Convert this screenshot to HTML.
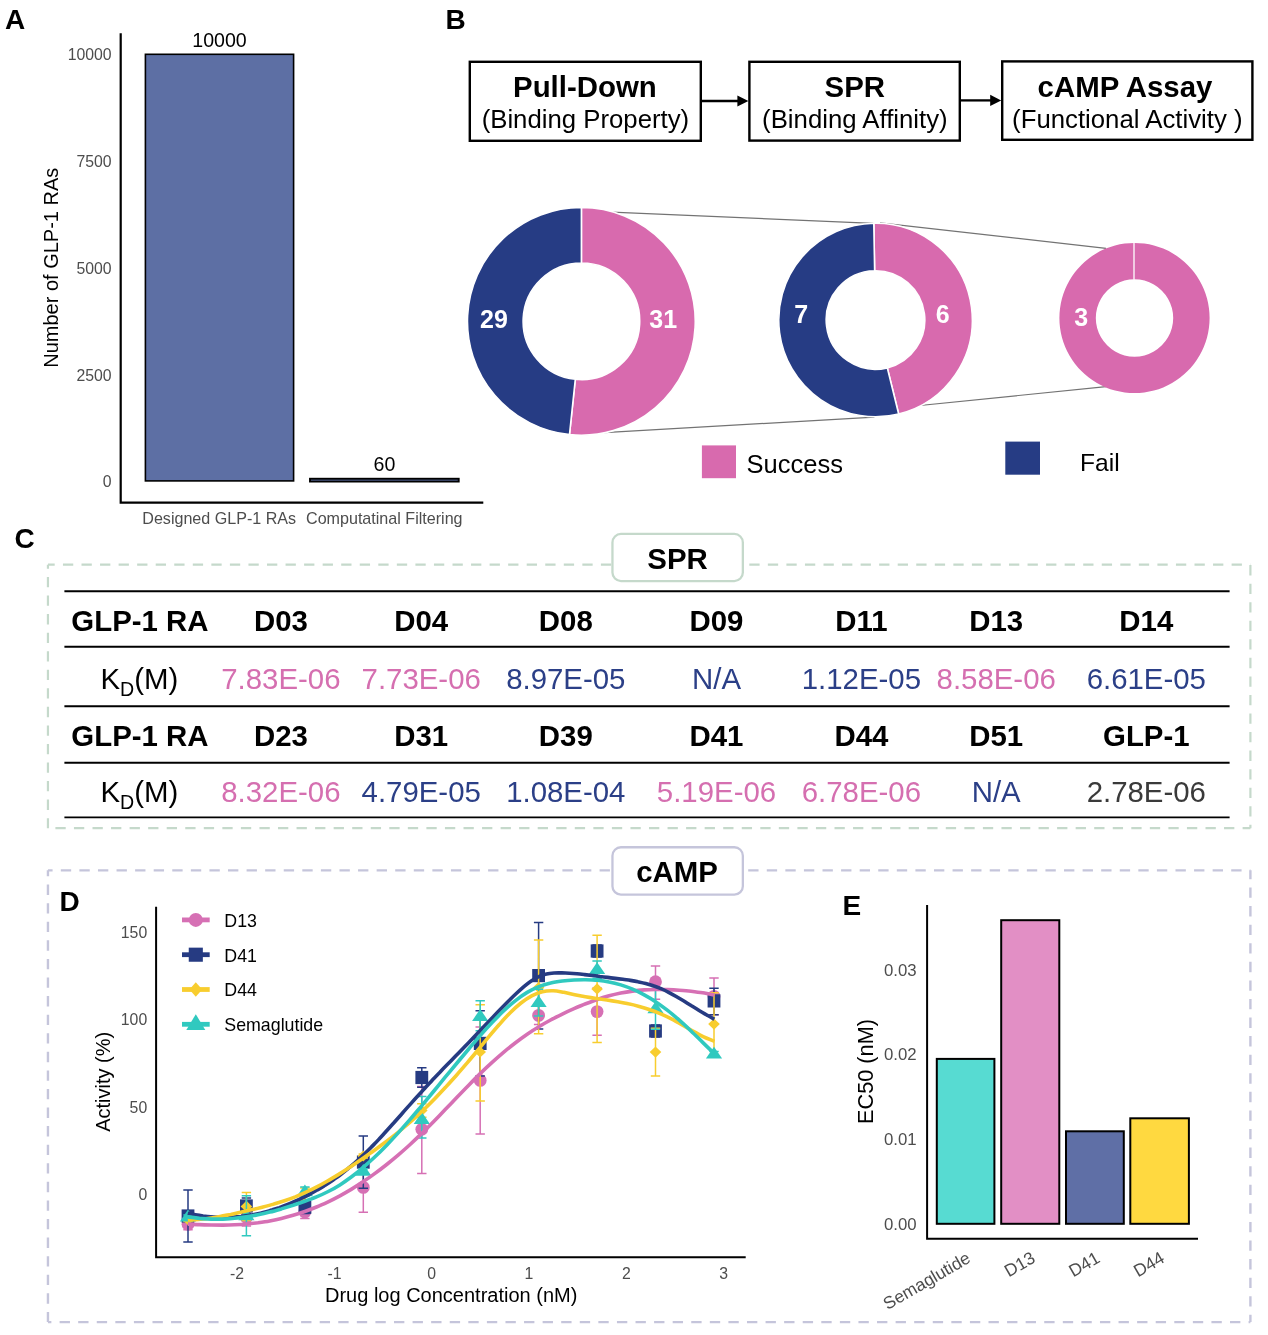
<!DOCTYPE html>
<html lang="en">
<head>
<meta charset="utf-8">
<title>GLP-1 RA design figure</title>
<style>
html,body{margin:0;padding:0;background:#fff;}
body{width:1268px;height:1335px;overflow:hidden;}
svg{display:block;}
text{font-family:"Liberation Sans", Arial, Helvetica, sans-serif;}
.b{font-weight:700;}
.tick{fill:#4d4d4d;}
</style>
</head>
<body>
<svg width="1268" height="1335" viewBox="0 0 1268 1335">
<rect x="0" y="0" width="1268" height="1335" fill="#ffffff"/>

<!-- panel letters -->
<text class="b" x="5" y="29" font-size="28" fill="#000">A</text>
<text class="b" x="445.5" y="29" font-size="28" fill="#000">B</text>
<text class="b" x="14.5" y="548.3" font-size="28" fill="#000">C</text>
<text class="b" x="59.5" y="911" font-size="28" fill="#000">D</text>
<text class="b" x="842.5" y="915" font-size="28" fill="#000">E</text>
<!-- Panel A: bar chart -->
<g id="panelA">
<rect x="145.4" y="54.3" width="148.2" height="426.6" fill="#5d6fa4" stroke="#000" stroke-width="1.6"/>
<rect x="310" y="478.75" width="148.7" height="2.8" fill="#5d6fa4" stroke="#000" stroke-width="1.9"/>
<path d="M120.7 33.2 V502.6 H483.3" fill="none" stroke="#000" stroke-width="2.2"/>
<text x="219.5" y="46.8" font-size="19.6" text-anchor="middle" fill="#000">10000</text>
<text x="384.5" y="470.5" font-size="19.6" text-anchor="middle" fill="#000">60</text>
<text class="tick" x="111.6" y="60.2" font-size="15.8" text-anchor="end">10000</text>
<text class="tick" x="111.6" y="167.3" font-size="15.8" text-anchor="end">7500</text>
<text class="tick" x="111.6" y="274.0" font-size="15.8" text-anchor="end">5000</text>
<text class="tick" x="111.6" y="380.7" font-size="15.8" text-anchor="end">2500</text>
<text class="tick" x="111.6" y="487.3" font-size="15.8" text-anchor="end">0</text>
<text class="tick" x="219.2" y="523.6" font-size="16.1" text-anchor="middle">Designed GLP-1 RAs</text>
<text class="tick" x="384.3" y="523.6" font-size="16.1" text-anchor="middle">Computatinal Filtering</text>
<text transform="translate(57.7 267.7) rotate(-90)" font-size="20" text-anchor="middle" fill="#000">Number of GLP-1 RAs</text>
</g>
<!-- Panel B: workflow + donuts -->
<g id="panelB">
<rect x="469.8" y="61.8" width="231.0" height="79.0" fill="#fff" stroke="#000" stroke-width="2.4"/>
<text class="b" x="584.9" y="96.7" font-size="29.4" text-anchor="middle" fill="#000">Pull-Down</text>
<text x="585.4" y="128.2" font-size="25.75" text-anchor="middle" fill="#000">(Binding Property)</text>
<rect x="749.4" y="61.8" width="210.4" height="78.8" fill="#fff" stroke="#000" stroke-width="2.4"/>
<text class="b" x="854.8" y="96.7" font-size="29.4" text-anchor="middle" fill="#000">SPR</text>
<text x="854.9" y="128.2" font-size="25.75" text-anchor="middle" fill="#000">(Binding Affinity)</text>
<rect x="1002.2" y="61.4" width="250.2" height="78.4" fill="#fff" stroke="#000" stroke-width="2.4"/>
<text class="b" x="1125.0" y="96.7" font-size="29.4" text-anchor="middle" fill="#000">cAMP Assay</text>
<text x="1127.3" y="128.2" font-size="25.75" text-anchor="middle" fill="#000">(Functional Activity )</text>
<path d="M702 101 H739.4" stroke="#000" stroke-width="2.3" fill="none"/>
<path d="M748.4 101 L737.4 95.4 V106.6 Z" fill="#000"/>
<path d="M961 100.4 H992.2" stroke="#000" stroke-width="2.3" fill="none"/>
<path d="M1001.2 100.4 L990.2 94.80000000000001 V106.0 Z" fill="#000"/>
<line x1="600" y1="211.7" x2="873.5" y2="223.3" stroke="#737373" stroke-width="1.2"/>
<line x1="600" y1="432.8" x2="874.5" y2="417.1" stroke="#737373" stroke-width="1.2"/>
<line x1="880" y1="222.8" x2="1106" y2="248.3" stroke="#737373" stroke-width="1.2"/>
<line x1="915" y1="406" x2="1106" y2="386.6" stroke="#737373" stroke-width="1.2"/>
<path d="M581.40 207.40 A113.9 113.9 0 1 1 569.49 434.58 L575.31 379.28 A58.3 58.3 0 1 0 581.40 263.00 Z" fill="#d86aae" stroke="#fff" stroke-width="1.6" stroke-linejoin="round"/>
<path d="M569.49 434.58 A113.9 113.9 0 0 1 581.40 207.40 L581.40 263.00 A58.3 58.3 0 0 0 575.31 379.28 Z" fill="#263c84" stroke="#fff" stroke-width="1.6" stroke-linejoin="round"/>
<path d="M873.81 223.21 A96.8 96.8 0 0 1 898.67 413.99 L887.30 367.87 A49.3 49.3 0 0 0 874.64 270.71 Z" fill="#d86aae" stroke="#fff" stroke-width="1.6" stroke-linejoin="round"/>
<path d="M898.67 413.99 A96.8 96.8 0 1 1 873.81 223.21 L874.64 270.71 A49.3 49.3 0 1 0 887.30 367.87 Z" fill="#263c84" stroke="#fff" stroke-width="1.6" stroke-linejoin="round"/>
<path d="M1134.5 242.9 A75.1 75.1 0 1 1 1134.49 242.9 Z M1134.5 279.3 A38.7 38.7 0 1 0 1134.51 279.3 Z" fill="#d86aae" fill-rule="evenodd"/>
<line x1="1134.0" y1="242.4" x2="1134.0" y2="279.8" stroke="#fff" stroke-width="1.3"/>
<text class="b" x="493.9" y="327.6" font-size="25" text-anchor="middle" fill="#fff">29</text>
<text class="b" x="663.2" y="328" font-size="25" text-anchor="middle" fill="#fff">31</text>
<text class="b" x="801.3" y="322.9" font-size="25" text-anchor="middle" fill="#fff">7</text>
<text class="b" x="942.8" y="323.2" font-size="25" text-anchor="middle" fill="#fff">6</text>
<text class="b" x="1081.2" y="326.4" font-size="25" text-anchor="middle" fill="#fff">3</text>
<rect x="701.9" y="445.4" width="34.1" height="32.8" fill="#d86aae"/>
<text x="746.6" y="472.7" font-size="25.5" fill="#000">Success</text>
<rect x="1005.3" y="441.6" width="34.7" height="33.1" fill="#263c84"/>
<text x="1080" y="471" font-size="24.6" fill="#000">Fail</text>
</g>
<!-- Panel C: SPR table -->
<g id="panelC">
<g fill="none" stroke="#c5d9cb" stroke-width="2.2" stroke-dasharray="10.3 8.25">
<path d="M47.95 564.7H1250.4" stroke-dashoffset="3.55"/>
<path d="M1250.4 564.7V828.2" stroke-dashoffset="18.15"/>
<path d="M47.95 828.2H1250.4" stroke-dashoffset="11.1"/>
<path d="M47.95 564.7V828.2" stroke-dashoffset="6.25"/>
</g>
<rect x="612.45" y="533.95" width="130.4" height="47.1" rx="8.5" ry="8.5" fill="#fff" stroke="#c5d9cb" stroke-width="2.3"/>
<text class="b" x="677.5" y="568.8" font-size="29.4" text-anchor="middle" fill="#000">SPR</text>
<line x1="64.4" y1="591.2" x2="1229.6" y2="591.2" stroke="#000" stroke-width="1.9"/>
<line x1="64.4" y1="646.7" x2="1229.6" y2="646.7" stroke="#000" stroke-width="1.9"/>
<line x1="64.4" y1="706.3" x2="1229.6" y2="706.3" stroke="#000" stroke-width="1.9"/>
<line x1="64.4" y1="762.8" x2="1229.6" y2="762.8" stroke="#000" stroke-width="1.9"/>
<line x1="64.4" y1="817.4" x2="1229.6" y2="817.4" stroke="#000" stroke-width="1.9"/>
<text class="b" x="139.9" y="630.7" font-size="29.4" text-anchor="middle" fill="#000">GLP-1 RA</text>
<text class="b" x="280.9" y="630.7" font-size="29.4" text-anchor="middle" fill="#000">D03</text>
<text class="b" x="421.2" y="630.7" font-size="29.4" text-anchor="middle" fill="#000">D04</text>
<text class="b" x="565.8" y="630.7" font-size="29.4" text-anchor="middle" fill="#000">D08</text>
<text class="b" x="716.5" y="630.7" font-size="29.4" text-anchor="middle" fill="#000">D09</text>
<text class="b" x="861.4" y="630.7" font-size="29.4" text-anchor="middle" fill="#000">D11</text>
<text class="b" x="996.2" y="630.7" font-size="29.4" text-anchor="middle" fill="#000">D13</text>
<text class="b" x="1146.3" y="630.7" font-size="29.4" text-anchor="middle" fill="#000">D14</text>
<text x="139.3" y="689" font-size="29.4" text-anchor="middle" fill="#000">K<tspan font-size="19.6" dy="7">D</tspan><tspan dy="-7">(M)</tspan></text>
<text x="280.9" y="689" font-size="29.4" text-anchor="middle" fill="#d56fb0">7.83E-06</text>
<text x="421.2" y="689" font-size="29.4" text-anchor="middle" fill="#d56fb0">7.73E-06</text>
<text x="565.8" y="689" font-size="29.4" text-anchor="middle" fill="#2b3f87">8.97E-05</text>
<text x="716.5" y="689" font-size="29.4" text-anchor="middle" fill="#2b3f87">N/A</text>
<text x="861.4" y="689" font-size="29.4" text-anchor="middle" fill="#2b3f87">1.12E-05</text>
<text x="996.2" y="689" font-size="29.4" text-anchor="middle" fill="#d56fb0">8.58E-06</text>
<text x="1146.3" y="689" font-size="29.4" text-anchor="middle" fill="#2b3f87">6.61E-05</text>
<text class="b" x="139.9" y="745.7" font-size="29.4" text-anchor="middle" fill="#000">GLP-1 RA</text>
<text class="b" x="280.9" y="745.7" font-size="29.4" text-anchor="middle" fill="#000">D23</text>
<text class="b" x="421.2" y="745.7" font-size="29.4" text-anchor="middle" fill="#000">D31</text>
<text class="b" x="565.8" y="745.7" font-size="29.4" text-anchor="middle" fill="#000">D39</text>
<text class="b" x="716.5" y="745.7" font-size="29.4" text-anchor="middle" fill="#000">D41</text>
<text class="b" x="861.4" y="745.7" font-size="29.4" text-anchor="middle" fill="#000">D44</text>
<text class="b" x="996.2" y="745.7" font-size="29.4" text-anchor="middle" fill="#000">D51</text>
<text class="b" x="1146.3" y="745.7" font-size="29.4" text-anchor="middle" fill="#000">GLP-1</text>
<text x="139.3" y="802" font-size="29.4" text-anchor="middle" fill="#000">K<tspan font-size="19.6" dy="7">D</tspan><tspan dy="-7">(M)</tspan></text>
<text x="280.9" y="802" font-size="29.4" text-anchor="middle" fill="#d56fb0">8.32E-06</text>
<text x="421.2" y="802" font-size="29.4" text-anchor="middle" fill="#2b3f87">4.79E-05</text>
<text x="565.8" y="802" font-size="29.4" text-anchor="middle" fill="#2b3f87">1.08E-04</text>
<text x="716.5" y="802" font-size="29.4" text-anchor="middle" fill="#d56fb0">5.19E-06</text>
<text x="861.4" y="802" font-size="29.4" text-anchor="middle" fill="#d56fb0">6.78E-06</text>
<text x="996.2" y="802" font-size="29.4" text-anchor="middle" fill="#2b3f87">N/A</text>
<text x="1146.3" y="802" font-size="29.4" text-anchor="middle" fill="#3a3a3a">2.78E-06</text>
</g>
<!-- cAMP frame -->
<g fill="none" stroke="#c5c5db" stroke-width="2.4" stroke-dasharray="10.35 8.228">
<path d="M47.95 870.35H1250.4" stroke-dashoffset="5.72"/>
<path d="M1250.4 870.35V1322.1" stroke-dashoffset="1.43"/>
<path d="M47.95 1322.1H1250.4" stroke-dashoffset="6.93"/>
<path d="M47.95 870.35V1322.1" stroke-dashoffset="4.33"/>
</g>
<rect x="612.45" y="847.25" width="130.4" height="47.4" rx="8.5" ry="8.5" fill="#fff" stroke="#c5c5db" stroke-width="2.3"/>
<text class="b" x="677" y="881.8" font-size="29.4" text-anchor="middle" fill="#000">cAMP</text>
<!-- Panel D: dose response -->
<g id="panelD">
<path d="M188.0 1219.0V1229.7M183.3 1219.0h9.4M183.3 1229.7h9.4M246.4 1209.0V1226.0M241.7 1209.0h9.4M241.7 1226.0h9.4M304.9 1205.2V1218.6M300.2 1205.2h9.4M300.2 1218.6h9.4M363.3 1162.6V1212.2M358.6 1162.6h9.4M358.6 1212.2h9.4M421.8 1086.4V1173.5M417.1 1086.4h9.4M417.1 1173.5h9.4M480.2 1027.1V1134.1M475.5 1027.1h9.4M475.5 1134.1h9.4M538.6 1006.2V1024.6M533.9 1006.2h9.4M533.9 1024.6h9.4M597.1 988.0V1035.2M592.4 988.0h9.4M592.4 1035.2h9.4M655.5 965.9V999.3M650.8 965.9h9.4M650.8 999.3h9.4M714.0 978.0V1014.8M709.3 978.0h9.4M709.3 1014.8h9.4" fill="none" stroke="#d670b4" stroke-width="1.5"/>
<circle cx="188.0" cy="1224.3" r="6.4" fill="#d670b4"/>
<circle cx="246.4" cy="1217.5" r="6.4" fill="#d670b4"/>
<circle cx="304.9" cy="1212.0" r="6.4" fill="#d670b4"/>
<circle cx="363.3" cy="1187.4" r="6.4" fill="#d670b4"/>
<circle cx="421.8" cy="1129.3" r="6.4" fill="#d670b4"/>
<circle cx="480.2" cy="1080.4" r="6.4" fill="#d670b4"/>
<circle cx="538.6" cy="1015.4" r="6.4" fill="#d670b4"/>
<circle cx="597.1" cy="1011.6" r="6.4" fill="#d670b4"/>
<circle cx="655.5" cy="981.7" r="6.4" fill="#d670b4"/>
<circle cx="714.0" cy="996.4" r="6.4" fill="#d670b4"/>
<path d="M188.0 1190.1V1241.9M183.3 1190.1h9.4M183.3 1241.9h9.4M246.4 1197.9V1214.1M241.7 1197.9h9.4M241.7 1214.1h9.4M304.9 1201.0V1213.6M300.2 1201.0h9.4M300.2 1213.6h9.4M363.3 1136.1V1188.2M358.6 1136.1h9.4M358.6 1188.2h9.4M421.8 1067.8V1087.2M417.1 1067.8h9.4M417.1 1087.2h9.4M480.2 1010.7V1076.1M475.5 1010.7h9.4M475.5 1076.1h9.4M538.6 922.6V1028.9M533.9 922.6h9.4M533.9 1028.9h9.4M597.1 945.0V957.0M592.4 945.0h9.4M592.4 957.0h9.4M655.5 1025.0V1037.0M650.8 1025.0h9.4M650.8 1037.0h9.4M714.0 988.3V1014.7M709.3 988.3h9.4M709.3 1014.7h9.4" fill="none" stroke="#263b82" stroke-width="1.5"/>
<rect x="181.6" y="1209.4" width="12.8" height="13.2" fill="#263b82"/>
<rect x="240.0" y="1199.4" width="12.8" height="13.2" fill="#263b82"/>
<rect x="298.5" y="1200.7" width="12.8" height="13.2" fill="#263b82"/>
<rect x="356.9" y="1155.5" width="12.8" height="13.2" fill="#263b82"/>
<rect x="415.4" y="1070.9" width="12.8" height="13.2" fill="#263b82"/>
<rect x="473.8" y="1036.8" width="12.8" height="13.2" fill="#263b82"/>
<rect x="532.2" y="969.0" width="12.8" height="13.2" fill="#263b82"/>
<rect x="590.7" y="944.4" width="12.8" height="13.2" fill="#263b82"/>
<rect x="649.1" y="1024.4" width="12.8" height="13.2" fill="#263b82"/>
<rect x="707.6" y="994.3" width="12.8" height="13.2" fill="#263b82"/>
<path d="M188.0 1218.0V1221.4M183.3 1218.0h9.4M183.3 1221.4h9.4M246.4 1192.4V1220.4M241.7 1192.4h9.4M241.7 1220.4h9.4M304.9 1188.0V1200.0M300.2 1188.0h9.4M300.2 1200.0h9.4M363.3 1154.0V1158.0M358.6 1154.0h9.4M358.6 1158.0h9.4M421.8 1103.7V1117.3M417.1 1103.7h9.4M417.1 1117.3h9.4M480.2 1004.7V1100.9M475.5 1004.7h9.4M475.5 1100.9h9.4M538.6 939.9V1033.7M533.9 939.9h9.4M533.9 1033.7h9.4M597.1 935.2V1042.5M592.4 935.2h9.4M592.4 1042.5h9.4M655.5 1028.2V1076.0M650.8 1028.2h9.4M650.8 1076.0h9.4M714.0 992.8V1055.4M709.3 992.8h9.4M709.3 1055.4h9.4" fill="none" stroke="#f8cd2e" stroke-width="1.5"/>
<path d="M188.0 1214.1l5.8 5.6l-5.8 5.6l-5.8 -5.6Z" fill="#f8cd2e"/>
<path d="M246.4 1200.8l5.8 5.6l-5.8 5.6l-5.8 -5.6Z" fill="#f8cd2e"/>
<path d="M304.9 1188.4l5.8 5.6l-5.8 5.6l-5.8 -5.6Z" fill="#f8cd2e"/>
<path d="M363.3 1150.4l5.8 5.6l-5.8 5.6l-5.8 -5.6Z" fill="#f8cd2e"/>
<path d="M421.8 1104.9l5.8 5.6l-5.8 5.6l-5.8 -5.6Z" fill="#f8cd2e"/>
<path d="M480.2 1046.4l5.8 5.6l-5.8 5.6l-5.8 -5.6Z" fill="#f8cd2e"/>
<path d="M538.6 981.9l5.8 5.6l-5.8 5.6l-5.8 -5.6Z" fill="#f8cd2e"/>
<path d="M597.1 983.3l5.8 5.6l-5.8 5.6l-5.8 -5.6Z" fill="#f8cd2e"/>
<path d="M655.5 1046.5l5.8 5.6l-5.8 5.6l-5.8 -5.6Z" fill="#f8cd2e"/>
<path d="M714.0 1018.5l5.8 5.6l-5.8 5.6l-5.8 -5.6Z" fill="#f8cd2e"/>
<path d="M188.0 1215.0V1219.0M183.3 1215.0h9.4M183.3 1219.0h9.4M246.4 1195.8V1235.8M241.7 1195.8h9.4M241.7 1235.8h9.4M304.9 1187.0V1196.6M300.2 1187.0h9.4M300.2 1196.6h9.4M363.3 1168.8V1173.8M358.6 1168.8h9.4M358.6 1173.8h9.4M421.8 1096.5V1138.0M417.1 1096.5h9.4M417.1 1138.0h9.4M480.2 1000.7V1030.8M475.5 1000.7h9.4M475.5 1030.8h9.4M538.6 989.2V1016.0M533.9 989.2h9.4M533.9 1016.0h9.4M597.1 961.0V978.2M592.4 961.0h9.4M592.4 978.2h9.4M655.5 988.5V1029.3M650.8 988.5h9.4M650.8 1029.3h9.4M714.0 1051.5V1056.7M709.3 1051.5h9.4M709.3 1056.7h9.4" fill="none" stroke="#30c9bf" stroke-width="1.5"/>
<path d="M188.0 1209.6l8.1 11.8h-16.2Z" fill="#30c9bf"/>
<path d="M246.4 1208.5l8.1 11.8h-16.2Z" fill="#30c9bf"/>
<path d="M304.9 1184.4l8.1 11.8h-16.2Z" fill="#30c9bf"/>
<path d="M363.3 1163.9l8.1 11.8h-16.2Z" fill="#30c9bf"/>
<path d="M421.8 1112.1l8.1 11.8h-16.2Z" fill="#30c9bf"/>
<path d="M480.2 1009.1l8.1 11.8h-16.2Z" fill="#30c9bf"/>
<path d="M538.6 995.2l8.1 11.8h-16.2Z" fill="#30c9bf"/>
<path d="M597.1 962.2l8.1 11.8h-16.2Z" fill="#30c9bf"/>
<path d="M655.5 1001.5l8.1 11.8h-16.2Z" fill="#30c9bf"/>
<path d="M714.0 1046.7l8.1 11.8h-16.2Z" fill="#30c9bf"/>
<path d="M187.8 1224.1C189.8 1224.2 195.6 1224.5 199.5 1224.6C203.4 1224.8 207.3 1224.9 211.2 1225.0C215.1 1225.1 219.0 1225.1 222.9 1225.1C226.8 1225.1 230.7 1225.0 234.6 1224.8C238.5 1224.6 242.4 1224.4 246.3 1224.0C250.2 1223.7 254.1 1223.3 258.0 1222.8C261.9 1222.2 265.8 1221.6 269.7 1220.9C273.6 1220.2 277.5 1219.4 281.4 1218.4C285.3 1217.5 289.2 1216.5 293.1 1215.3C297.0 1214.2 300.9 1212.9 304.8 1211.5C308.7 1210.1 312.6 1208.6 316.5 1207.0C320.4 1205.4 324.3 1203.6 328.2 1201.8C332.1 1199.9 336.0 1197.9 339.9 1195.8C343.8 1193.7 347.7 1191.4 351.6 1189.1C355.5 1186.7 359.4 1184.2 363.3 1181.6C367.2 1179.0 371.1 1176.3 375.0 1173.4C378.9 1170.6 382.8 1167.6 386.7 1164.5C390.6 1161.4 394.5 1158.2 398.4 1154.9C402.3 1151.5 406.2 1148.1 410.1 1144.5C414.0 1140.9 417.9 1137.2 421.8 1133.4C425.7 1129.6 429.6 1125.7 433.5 1121.7C437.4 1117.7 441.3 1113.6 445.2 1109.6C449.1 1105.5 453.1 1101.4 457.0 1097.3C460.9 1093.2 464.8 1089.1 468.7 1085.2C472.6 1081.2 476.5 1077.2 480.4 1073.4C484.3 1069.6 488.2 1065.9 492.1 1062.4C496.0 1058.8 499.9 1055.4 503.8 1052.1C507.7 1048.8 511.6 1045.7 515.5 1042.7C519.4 1039.7 523.3 1036.9 527.2 1034.2C531.1 1031.5 535.0 1029.0 538.9 1026.7C542.8 1024.3 546.7 1022.1 550.6 1020.0C554.5 1017.9 558.4 1016.0 562.3 1014.1C566.2 1012.2 570.1 1010.4 574.0 1008.7C577.9 1007.0 581.8 1005.3 585.7 1003.8C589.6 1002.3 593.5 1000.8 597.4 999.5C601.3 998.1 605.2 996.9 609.1 995.8C613.0 994.7 616.9 993.8 620.8 993.0C624.7 992.2 628.6 991.6 632.5 991.1C636.4 990.6 640.3 990.2 644.2 989.9C648.1 989.7 652.0 989.6 655.9 989.5C659.8 989.4 663.7 989.5 667.6 989.6C671.5 989.7 675.4 989.9 679.3 990.2C683.2 990.5 687.1 990.8 691.0 991.2C694.9 991.7 698.8 992.2 702.7 992.8C706.6 993.5 712.4 994.7 714.4 995.1" fill="none" stroke="#d670b4" stroke-width="3.6" stroke-linecap="butt" stroke-linejoin="round"/>
<path d="M187.8 1213.3C189.1 1213.6 192.9 1214.4 195.4 1214.8C198.0 1215.2 200.5 1215.6 203.1 1216.0C205.6 1216.3 208.2 1216.6 210.7 1216.8C213.2 1217.0 215.8 1217.1 218.3 1217.2C220.9 1217.3 223.4 1217.4 226.0 1217.4C228.5 1217.3 231.0 1217.2 233.6 1217.1C236.1 1216.9 238.7 1216.7 241.2 1216.5C243.8 1216.2 246.3 1215.8 248.9 1215.4C251.4 1215.0 253.9 1214.5 256.5 1214.0C259.0 1213.5 261.6 1212.9 264.1 1212.2C266.7 1211.6 269.2 1210.8 271.8 1210.1C274.3 1209.3 276.8 1208.4 279.4 1207.6C281.9 1206.7 284.5 1205.7 287.0 1204.7C289.6 1203.7 292.1 1202.6 294.6 1201.5C297.2 1200.4 299.7 1199.2 302.3 1197.9C304.8 1196.7 307.4 1195.4 309.9 1194.1C312.5 1192.7 315.0 1191.3 317.5 1189.8C320.1 1188.4 322.6 1186.8 325.2 1185.2C327.7 1183.6 330.3 1181.9 332.8 1180.2C335.3 1178.4 337.9 1176.6 340.4 1174.7C343.0 1172.7 345.5 1170.7 348.1 1168.6C350.6 1166.5 353.2 1164.4 355.7 1162.1C358.2 1159.9 360.8 1157.5 363.3 1155.1C365.9 1152.6 368.4 1150.1 371.0 1147.5C373.5 1144.9 376.1 1142.3 378.6 1139.6C381.1 1136.8 383.7 1134.1 386.2 1131.3C388.8 1128.5 391.3 1125.6 393.9 1122.8C396.4 1119.9 398.9 1117.1 401.5 1114.2C404.0 1111.3 406.6 1108.4 409.1 1105.6C411.7 1102.7 414.2 1099.8 416.8 1097.0C419.3 1094.2 421.8 1091.4 424.4 1088.7C426.9 1085.9 429.5 1083.2 432.0 1080.5C434.6 1077.8 437.1 1075.1 439.7 1072.5C442.2 1069.8 444.7 1067.2 447.3 1064.6C449.8 1062.0 452.4 1059.3 454.9 1056.7C457.5 1054.1 460.0 1051.5 462.5 1048.9C465.1 1046.3 467.6 1043.6 470.2 1041.0C472.7 1038.4 475.3 1035.7 477.8 1033.1C480.4 1030.4 482.9 1027.7 485.4 1025.0C488.0 1022.3 490.5 1019.6 493.1 1016.9C495.6 1014.2 498.2 1011.5 500.7 1008.9C503.3 1006.3 505.8 1003.7 508.3 1001.2C510.9 998.7 513.4 996.2 516.0 993.8C518.5 991.4 521.1 989.1 523.6 986.9C526.1 984.8 528.7 982.7 531.2 981.0C533.8 979.3 536.3 977.7 538.9 976.6C541.4 975.4 544.0 974.6 546.5 974.0C549.0 973.4 551.6 973.2 554.1 973.0C556.7 972.8 559.2 972.9 561.8 972.9C564.3 973.0 566.9 973.1 569.4 973.2C571.9 973.4 574.5 973.6 577.0 973.8C579.6 974.0 582.1 974.3 584.7 974.6C587.2 974.9 589.7 975.2 592.3 975.5C594.8 975.8 597.4 976.1 599.9 976.5C602.5 976.8 605.0 977.1 607.6 977.4C610.1 977.8 612.6 978.1 615.2 978.4C617.7 978.7 620.3 979.0 622.8 979.3C625.4 979.7 627.9 980.0 630.4 980.4C633.0 980.8 635.5 981.2 638.1 981.8C640.6 982.3 643.2 982.8 645.7 983.5C648.3 984.2 650.8 984.9 653.3 985.8C655.9 986.6 658.4 987.6 661.0 988.7C663.5 989.8 666.1 991.0 668.6 992.3C671.2 993.6 673.7 995.0 676.2 996.5C678.8 998.0 681.3 999.5 683.9 1001.0C686.4 1002.6 689.0 1004.2 691.5 1005.8C694.0 1007.3 696.6 1008.9 699.1 1010.5C701.7 1012.0 704.2 1013.6 706.8 1015.0C709.3 1016.5 713.1 1018.5 714.4 1019.2" fill="none" stroke="#263b82" stroke-width="3.6" stroke-linecap="butt" stroke-linejoin="round"/>
<path d="M187.8 1220.0C189.6 1219.9 195.0 1219.8 198.5 1219.5C202.1 1219.3 205.7 1218.8 209.3 1218.3C212.9 1217.8 216.5 1217.2 220.0 1216.5C223.6 1215.9 227.2 1215.1 230.8 1214.4C234.4 1213.6 238.0 1212.8 241.5 1212.0C245.1 1211.2 248.7 1210.4 252.3 1209.6C255.9 1208.8 259.4 1207.9 263.0 1207.0C266.6 1206.1 270.2 1205.2 273.8 1204.1C277.4 1203.1 280.9 1202.0 284.5 1200.8C288.1 1199.6 291.7 1198.3 295.3 1196.9C298.9 1195.4 302.4 1193.9 306.0 1192.2C309.6 1190.6 313.2 1188.8 316.8 1186.9C320.3 1185.1 323.9 1183.1 327.5 1181.0C331.1 1179.0 334.7 1176.8 338.3 1174.6C341.8 1172.4 345.4 1170.1 349.0 1167.7C352.6 1165.4 356.2 1162.9 359.8 1160.5C363.3 1158.1 366.9 1155.6 370.5 1153.1C374.1 1150.5 377.7 1148.0 381.2 1145.3C384.8 1142.7 388.4 1140.0 392.0 1137.2C395.6 1134.4 399.2 1131.5 402.7 1128.5C406.3 1125.5 409.9 1122.4 413.5 1119.2C417.1 1116.0 420.7 1112.7 424.2 1109.2C427.8 1105.8 431.4 1102.2 435.0 1098.5C438.6 1094.8 442.1 1091.0 445.7 1087.1C449.3 1083.2 452.9 1079.2 456.5 1075.2C460.1 1071.1 463.6 1067.0 467.2 1062.8C470.8 1058.6 474.4 1054.3 478.0 1050.0C481.5 1045.7 485.1 1041.2 488.7 1036.9C492.3 1032.6 495.9 1028.3 499.5 1024.3C503.0 1020.2 506.6 1016.2 510.2 1012.7C513.8 1009.1 517.4 1005.8 521.0 1003.0C524.5 1000.2 528.1 997.7 531.7 995.8C535.3 993.9 538.9 992.5 542.4 991.7C546.0 990.8 549.6 990.7 553.2 990.8C556.8 990.9 560.4 991.7 563.9 992.3C567.5 993.0 571.1 994.0 574.7 994.7C578.3 995.5 581.9 996.2 585.4 996.8C589.0 997.4 592.6 997.9 596.2 998.5C599.8 999.0 603.3 999.5 606.9 1000.0C610.5 1000.6 614.1 1001.1 617.7 1001.7C621.3 1002.3 624.8 1003.0 628.4 1003.8C632.0 1004.5 635.6 1005.4 639.2 1006.4C642.8 1007.4 646.3 1008.4 649.9 1009.7C653.5 1010.9 657.1 1012.3 660.7 1013.8C664.2 1015.3 667.8 1017.0 671.4 1018.9C675.0 1020.7 678.6 1022.8 682.2 1024.9C685.7 1026.9 689.3 1029.1 692.9 1031.1C696.5 1033.1 700.1 1035.1 703.7 1036.8C707.2 1038.5 712.6 1040.5 714.4 1041.3" fill="none" stroke="#f8cd2e" stroke-width="3.6" stroke-linecap="butt" stroke-linejoin="round"/>
<path d="M187.8 1216.9C189.8 1217.2 195.6 1218.0 199.5 1218.4C203.4 1218.7 207.3 1218.9 211.2 1219.1C215.1 1219.2 219.0 1219.2 222.9 1219.1C226.8 1218.9 230.7 1218.7 234.6 1218.3C238.5 1218.0 242.4 1217.5 246.3 1216.9C250.2 1216.3 254.1 1215.6 258.0 1214.8C261.9 1214.0 265.8 1213.1 269.7 1212.1C273.6 1211.1 277.5 1210.0 281.4 1208.9C285.3 1207.7 289.2 1206.5 293.1 1205.3C297.0 1204.0 300.9 1202.7 304.8 1201.3C308.7 1199.9 312.6 1198.5 316.5 1196.9C320.4 1195.3 324.3 1193.5 328.2 1191.5C332.1 1189.5 336.0 1187.4 339.9 1184.9C343.8 1182.5 347.7 1179.7 351.6 1176.8C355.5 1173.9 359.4 1170.7 363.3 1167.4C367.2 1164.1 371.1 1160.5 375.0 1156.8C378.9 1153.1 382.8 1149.2 386.7 1145.2C390.6 1141.1 394.5 1136.9 398.4 1132.6C402.3 1128.3 406.2 1123.9 410.1 1119.4C414.0 1114.9 417.9 1110.2 421.8 1105.6C425.7 1100.9 429.6 1096.2 433.5 1091.5C437.4 1086.7 441.3 1082.0 445.2 1077.2C449.1 1072.5 453.1 1067.7 457.0 1063.0C460.9 1058.3 464.8 1053.6 468.7 1049.0C472.6 1044.4 476.5 1039.9 480.4 1035.4C484.3 1031.0 488.2 1026.7 492.1 1022.6C496.0 1018.5 499.9 1014.5 503.8 1010.8C507.7 1007.1 511.6 1003.6 515.5 1000.6C519.4 997.5 523.3 994.7 527.2 992.4C531.1 990.0 535.0 988.2 538.9 986.6C542.8 985.0 546.7 983.9 550.6 983.0C554.5 982.0 558.4 981.5 562.3 981.0C566.2 980.5 570.1 980.2 574.0 980.0C577.9 979.8 581.8 979.6 585.7 979.7C589.6 979.8 593.5 979.9 597.4 980.3C601.3 980.7 605.2 981.2 609.1 982.0C613.0 982.7 616.9 983.7 620.8 984.9C624.7 986.1 628.6 987.5 632.5 989.2C636.4 990.8 640.3 992.7 644.2 994.9C648.1 997.0 652.0 999.3 655.9 1001.9C659.8 1004.5 663.7 1007.4 667.6 1010.4C671.5 1013.4 675.4 1016.8 679.3 1020.2C683.2 1023.6 687.1 1027.3 691.0 1031.0C694.9 1034.7 698.8 1038.6 702.7 1042.4C706.6 1046.2 712.4 1051.9 714.4 1053.8" fill="none" stroke="#30c9bf" stroke-width="3.6" stroke-linecap="butt" stroke-linejoin="round"/>
<path d="M156.1 906.8 V1257.2 H745.7" fill="none" stroke="#000" stroke-width="2"/>
<text class="tick" x="147.2" y="938.0" font-size="15.8" text-anchor="end">150</text>
<text class="tick" x="147.2" y="1025.3" font-size="15.8" text-anchor="end">100</text>
<text class="tick" x="147.2" y="1112.7" font-size="15.8" text-anchor="end">50</text>
<text class="tick" x="147.2" y="1200.0" font-size="15.8" text-anchor="end">0</text>
<text class="tick" x="237.1" y="1279.2" font-size="15.8" text-anchor="middle">-2</text>
<text class="tick" x="334.4" y="1279.2" font-size="15.8" text-anchor="middle">-1</text>
<text class="tick" x="431.7" y="1279.2" font-size="15.8" text-anchor="middle">0</text>
<text class="tick" x="529.0" y="1279.2" font-size="15.8" text-anchor="middle">1</text>
<text class="tick" x="626.3" y="1279.2" font-size="15.8" text-anchor="middle">2</text>
<text class="tick" x="723.6" y="1279.2" font-size="15.8" text-anchor="middle">3</text>
<text x="451.2" y="1302" font-size="20" text-anchor="middle" fill="#000">Drug log Concentration (nM)</text>
<text transform="translate(110 1081.8) rotate(-90)" font-size="20" text-anchor="middle" fill="#000">Activity (%)</text>
<line x1="182" y1="919.9" x2="209.7" y2="919.9" stroke="#d670b4" stroke-width="4.8"/>
<circle cx="195.8" cy="919.9" r="7" fill="#d670b4"/>
<text x="224.3" y="926.7" font-size="17.8" fill="#000">D13</text>
<line x1="182" y1="954.7" x2="209.7" y2="954.7" stroke="#263b82" stroke-width="4.8"/>
<rect x="188.75" y="947.65" width="14.1" height="14.1" fill="#263b82"/>
<text x="224.3" y="961.5" font-size="17.8" fill="#000">D41</text>
<line x1="182" y1="989.5" x2="209.7" y2="989.5" stroke="#f8cd2e" stroke-width="4.8"/>
<path d="M195.8 982.3l6.4 7.2l-6.4 7.2l-6.4 -7.2Z" fill="#f8cd2e"/>
<text x="224.3" y="996.3" font-size="17.8" fill="#000">D44</text>
<line x1="182" y1="1024.3" x2="209.7" y2="1024.3" stroke="#30c9bf" stroke-width="4.8"/>
<path d="M195.8 1014.2l9.5 15.8h-19Z" fill="#30c9bf"/>
<text x="224.3" y="1031.1" font-size="17.8" fill="#000">Semaglutide</text>
</g>
<!-- Panel E: EC50 bars -->
<g id="panelE">
<rect x="936.8" y="1058.9" width="57.6" height="164.9" fill="#57dbd2" stroke="#000" stroke-width="2.0"/>
<text class="tick" transform="translate(971.8 1261.5) rotate(-30)" font-size="17.5" text-anchor="end">Semaglutide</text>
<rect x="1001.2" y="920.2" width="58.1" height="303.6" fill="#e28fc5" stroke="#000" stroke-width="2.0"/>
<text class="tick" transform="translate(1036.5 1261.5) rotate(-30)" font-size="17.5" text-anchor="end">D13</text>
<rect x="1066.0" y="1131.3" width="57.8" height="92.5" fill="#5f6fa6" stroke="#000" stroke-width="2.0"/>
<text class="tick" transform="translate(1101.1 1261.5) rotate(-30)" font-size="17.5" text-anchor="end">D41</text>
<rect x="1130.3" y="1118.3" width="58.6" height="105.5" fill="#ffd940" stroke="#000" stroke-width="2.0"/>
<text class="tick" transform="translate(1165.8 1261.5) rotate(-30)" font-size="17.5" text-anchor="end">D44</text>
<path d="M927.1 905 V1238.7 H1198" fill="none" stroke="#000" stroke-width="2"/>
<text class="tick" x="916.6" y="975.6" font-size="16.8" text-anchor="end">0.03</text>
<text class="tick" x="916.6" y="1060.4" font-size="16.8" text-anchor="end">0.02</text>
<text class="tick" x="916.6" y="1145.1" font-size="16.8" text-anchor="end">0.01</text>
<text class="tick" x="916.6" y="1229.6" font-size="16.8" text-anchor="end">0.00</text>
<text transform="translate(872.8 1071.5) rotate(-90)" font-size="21.7" text-anchor="middle" fill="#000">EC50 (nM)</text>
</g>
</svg>
</body>
</html>
